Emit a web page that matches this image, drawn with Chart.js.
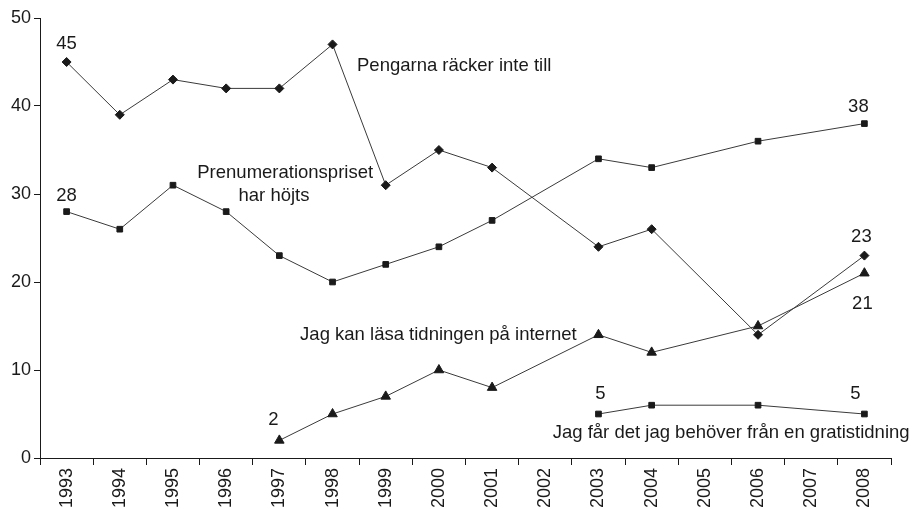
<!DOCTYPE html>
<html>
<head>
<meta charset="utf-8">
<script src="https://cdn.jsdelivr.net/npm/chart.js@4/dist/chart.umd.min.js"></script>
<style>
  html, body { margin: 0; padding: 0; background: #fff; }
  #wrap { width: 915px; height: 509px; }
</style>
</head>
<body>
<div id="wrap"><canvas id="chart" width="915" height="509"></canvas></div>
<script>
// Data
const years = ['1993', '1994', '1995', '1996', '1997', '1998', '1999', '2000',
               '2001', '2002', '2003', '2004', '2005', '2006', '2007', '2008'];
const pengarna      = [45, 39, 43, 42, 42, 47, 31, 35, 33, null, 24, 26, null, 14, null, 23];
const prenumeration = [28, 26, 31, 28, 23, 20, 22, 24, 27, null, 34, 33, null, 36, null, 38];
const internet      = [null, null, null, null, 2, 5, 7, 10, 8, null, 14, 12, null, 15, null, 21];
const gratis        = [null, null, null, null, null, null, null, null, null, null, 5, 6, null, 6, null, 5];
const yTicks = [0, 10, 20, 30, 40, 50];

const ink = '#1a1a1a';
const font = 'Arial, "Liberation Sans", Helvetica, sans-serif';

// value labels: [dataset, index, dx, dy]
const valueLabels = [
    [0, 0, 0, -18],
    [1, 0, 0, -16],
    [1, 15, -6, -17],
    [0, 15, -3, -19],
    [2, 15, -2, 31],
    [2, 4, -6, -20],
    [3, 10, 2, -20],
    [3, 15, -9, -20]
];

// series names: [text, x (category index), y (value), align]
const seriesNames = [
    ['Pengarna räcker inte till', 5.46, 44.5, 'left'],
    ['Prenumerationspriset', 4.11, 32.4, 'center'],
    ['har höjts', 3.9, 29.8, 'center'],
    ['Jag kan läsa tidningen på internet', 4.39, 14.0, 'left'],
    ['Jag får det jag behöver från en gratistidning', 9.14, 2.84, 'left']
];

const labelPlugin = {
    id: 'labels',
    afterDatasetsDraw(chart) {
        const ctx = chart.ctx;
        const xs = chart.scales.x, ys = chart.scales.y;
        ctx.save();
        ctx.fillStyle = ink;
        ctx.font = '18.5px ' + font;
        ctx.textBaseline = 'middle';
        ctx.textAlign = 'center';
        valueLabels.forEach(([ds, i, dx, dy]) => {
            const pt = chart.getDatasetMeta(ds).data[i];
            const v = chart.data.datasets[ds].data[i];
            ctx.fillText(String(v), pt.x + dx, pt.y + dy);
        });
        seriesNames.forEach(([text, xi, yv, align]) => {
            ctx.textAlign = align;
            ctx.fillText(text, xs.getPixelForValue(xi), ys.getPixelForValue(yv));
        });
        ctx.restore();
    }
};

function line(data, style, size) {
    return {
        data: data,
        borderColor: '#3a3a3a',
        borderWidth: 1,
        pointStyle: style,
        pointRadius: size,
        pointBackgroundColor: ink,
        pointBorderColor: ink,
        pointBorderWidth: 1,
        spanGaps: true,
        tension: 0
    };
}

new Chart(document.getElementById('chart'), {
    type: 'line',
    data: {
        labels: years,
        datasets: [
            line(pengarna, 'rectRot', 4.5),
            line(prenumeration, 'rect', 4),
            line(internet, 'triangle', 5.5),
            line(gratis, 'rect', 4)
        ]
    },
    options: {
        responsive: false,
        animation: false,
        layout: { padding: { top: 18, right: 24, left: 0, bottom: 0 } },
        plugins: {
            legend: { display: false },
            tooltip: { enabled: false }
        },
        scales: {
            x: {
                offset: true,
                grid: { offset: true, drawOnChartArea: false, drawTicks: true, tickLength: 7, color: ink },
                border: { color: ink, width: 1 },
                ticks: {
                    color: ink, font: { size: 18, family: font },
                    minRotation: 90, maxRotation: 90, padding: 3, autoSkip: false
                },
                afterFit(scale) { scale.height = 51; }
            },
            y: {
                min: 0, max: 50,
                afterBuildTicks(scale) { scale.ticks = yTicks.map(v => ({ value: v })); },
                grid: { drawOnChartArea: false, drawTicks: true, tickLength: 6, color: ink },
                border: { color: ink, width: 1 },
                ticks: { color: ink, font: { size: 18, family: font }, padding: 3 },
                afterFit(scale) { scale.width = 40; }
            }
        }
    },
    plugins: [labelPlugin]
});
</script>
</body>
</html>
